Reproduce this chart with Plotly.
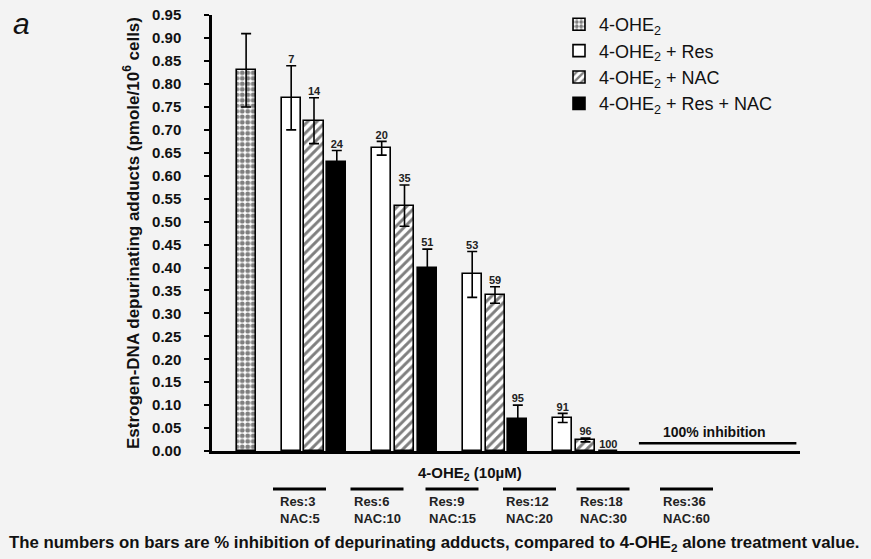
import plotly.graph_objects as go

# ---------------- data ----------------
control_name = "4-OHE<sub>2</sub>"
control_value = 0.83
control_err = 0.08

series_names = ["4-OHE<sub>2</sub> + Res", "4-OHE<sub>2</sub> + NAC", "4-OHE<sub>2</sub> + Res + NAC"]
res_values = [0.77, 0.66, 0.385, 0.072]
res_err = [0.07, 0.015, 0.05, 0.01]
res_inhib = ["7", "20", "53", "91"]
nac_values = [0.72, 0.535, 0.34, 0.024]
nac_err = [0.05, 0.045, 0.018, 0.004]
nac_inhib = ["14", "35", "59", "96"]
both_values = [0.63, 0.40, 0.07, 0.0]
both_err = [0.025, 0.04, 0.03, 0.0]
both_inhib = ["24", "51", "95", "100"]

dose_labels = ["Res:3<br>NAC:5", "Res:6<br>NAC:10", "Res:9<br>NAC:15",
               "Res:12<br>NAC:20", "Res:18<br>NAC:30", "Res:36<br>NAC:60"]
full_inhibition_value = 0.017
full_inhibition_text = "100% inhibition"

y_ticks = [round(i * 0.05, 2) for i in range(20)]   # 0.00 ... 0.95
y_title = "Estrogen-DNA depurinating adducts (pmole/10<sup>6</sup> cells)"
x_title = "4-OHE<sub>2</sub> (10µM)"
caption = ("The numbers on bars are % inhibition of depurinating adducts, "
           "compared to 4-OHE<sub>2</sub> alone treatment value.")

# ---------------- layout helpers ----------------
BG = "#f3f3f3"
FONT = "Liberation Sans, Arial, sans-serif"
PL, PR, PT, PB = 212, 800, 15, 451   # plot area in page pixels
PW, PH = PR - PL, PB - PT

def px(xp):
    return (xp - PL) / PW

def py(yp):
    return (PB - yp) / PH

bar_w = 0.21
step = 0.252
groups = list(range(1, len(res_values) + 1))
control_x = 0.25

fig = go.Figure()

def bar_trace(name, xs, ys, errs, pattern, color):
    return go.Bar(
        name=name, x=xs, y=ys, width=bar_w,
        marker=dict(color=color, line=dict(color="black", width=1.6), pattern=pattern),
        error_y=dict(type="data", array=errs, visible=True, color="black",
                     thickness=1.6, width=5),
    )

fig.add_trace(bar_trace(control_name, [control_x], [control_value], [control_err],
                        dict(shape=".", fgcolor="black", bgcolor="white", size=5.5,
                             solidity=0.6, fillmode="overlay"), "white"))
offsets = [-step, 0, step]
series = [(res_values, res_err, res_inhib, dict(shape=""), "white"),
          (nac_values, nac_err, nac_inhib,
           dict(shape="/", fgcolor="black", bgcolor="white", size=6.5, solidity=0.45,
                fillmode="overlay"), "white"),
          (both_values, both_err, both_inhib, dict(shape=""), "black")]
for name, off, (vals, errs, txt, pat, col) in zip(series_names, offsets, series):
    xs = [g + off for g in groups]
    fig.add_trace(bar_trace(name, xs, vals, errs, pat, col))
    fig.add_trace(go.Scatter(
        x=xs, y=[v + e for v, e in zip(vals, errs)], mode="text",
        text=["<b>%s</b>" % t for t in txt],
        textposition="top center", showlegend=False, hoverinfo="skip",
        textfont=dict(family=FONT, size=11, color="#222"),
    ))

# 100% inhibition line for highest doses
n_groups = len(dose_labels)
fig.add_trace(go.Scatter(
    x=[n_groups - 1 - 0.41, n_groups + 0.33],
    y=[full_inhibition_value, full_inhibition_value],
    mode="lines", line=dict(color="black", width=2.5),
    showlegend=False, hoverinfo="skip"))
fig.add_annotation(x=n_groups - 0.57, y=full_inhibition_value, yshift=11,
                   text="<b>" + full_inhibition_text + "</b>", showarrow=False,
                   xanchor="center", yanchor="middle",
                   font=dict(family=FONT, size=14, color="#111"))

# dose table below axis
table_x = [299.5, 377, 452, 529.5, 603, 686.5]
for xp, lab in zip(table_x, dose_labels):
    fig.add_shape(type="line", xref="paper", yref="paper",
                  x0=px(xp - 26.5), x1=px(xp + 26.5), y0=py(489), y1=py(489),
                  line=dict(color="black", width=3))
    fig.add_annotation(xref="paper", yref="paper", x=px(xp), y=py(510),
                       xanchor="center", yanchor="middle",
                       text="<b>" + lab + "</b>", showarrow=False,
                       font=dict(family=FONT, size=13, color="#222"), align="left")

fig.add_annotation(xref="paper", yref="paper", x=px(470), y=py(473),
                   xanchor="center", yanchor="middle",
                   text="<b>" + x_title + "</b>", showarrow=False,
                   font=dict(family=FONT, size=15, color="#111"))
fig.add_annotation(xref="paper", yref="paper", x=px(434), y=py(543),
                   xanchor="center", yanchor="middle",
                   text="<b>" + caption + "</b>", showarrow=False,
                   font=dict(family=FONT, size=16.8, color="#111"))
fig.add_annotation(xref="paper", yref="paper", x=px(22), y=py(23),
                   xanchor="center", yanchor="middle",
                   text="<i>a</i>", showarrow=False,
                   font=dict(family=FONT, size=30, color="#111"))

W, H = 871, 559
fig.update_layout(
    width=W, height=H,
    margin=dict(l=PL, r=W - PR, t=PT, b=H - PB, autoexpand=False),
    paper_bgcolor=BG, plot_bgcolor=BG,
    barmode="overlay", bargap=0,
    font=dict(family=FONT, color="#111"),
    showlegend=True,
    legend=dict(x=px(559), y=py(6), xanchor="left", yanchor="top",
                bgcolor="rgba(0,0,0,0)", font=dict(family=FONT, size=18, color="#111"),
                traceorder="normal", itemwidth=30),
    xaxis=dict(range=[-0.127, 6.37], showticklabels=False, ticks="", showgrid=False,
               zeroline=False, showline=True, linecolor="black", linewidth=3),
    yaxis=dict(range=[0, 0.9505], tickmode="array", tickvals=y_ticks,
               ticktext=["<b>%.2f</b>" % v for v in y_ticks],
               ticks="outside", ticklen=5, tickwidth=2, tickcolor="black",
               ticklabelstandoff=20, ticklabeloverflow="allow",
               showgrid=False, zeroline=False, showline=True, linecolor="black",
               linewidth=2.5, tickfont=dict(family=FONT, size=15, color="#111"),
               title=dict(text="<b>" + y_title + "</b>", standoff=9,
                          font=dict(family=FONT, size=17, color="#111"))),
)

fig.write_html("out.html",
               config={"displayModeBar": False},
               post_script="document.body.style.margin='0';"
                           "document.body.style.overflow='hidden';")
